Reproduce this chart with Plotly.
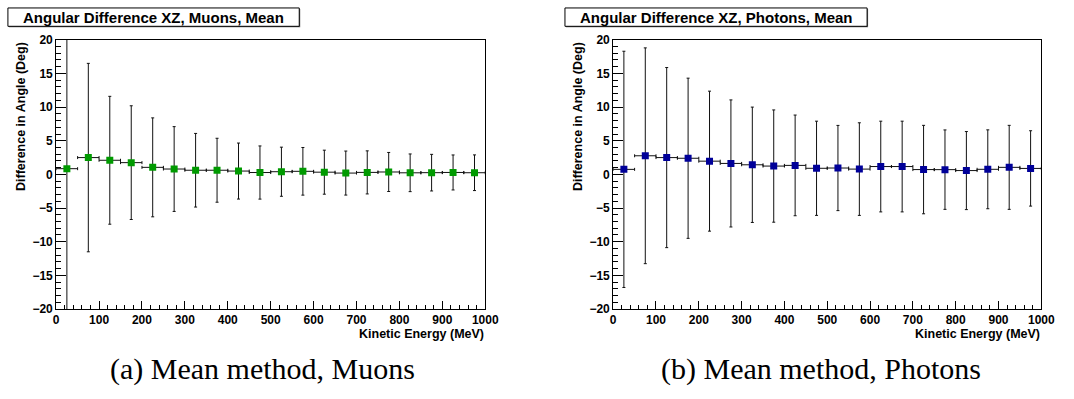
import plotly.graph_objects as go

# Kinetic-energy bins (MeV): centres and half-widths
energy_mev = [25, 75, 125, 175, 225, 275, 325, 375, 425, 475,
              525, 575, 625, 675, 725, 775, 825, 875, 925, 975]
bin_half_width = [25] * 20

# Mean angular difference in XZ (deg) and its spread
muon_mean = [0.85, 2.5, 2.1, 1.75, 1.05, 0.8, 0.62, 0.62, 0.5, 0.28,
             0.4, 0.46, 0.33, 0.2, 0.3, 0.36, 0.24, 0.26, 0.29, 0.25]
muon_err = [24.0, 14.0, 9.5, 8.45, 7.35, 6.3, 5.47, 4.75, 4.16, 3.95,
            3.65, 3.54, 3.27, 3.27, 3.2, 2.9, 2.8, 2.72, 2.6, 2.65]

photon_mean = [0.75, 2.77, 2.5, 2.4, 1.97, 1.63, 1.43, 1.24, 1.34, 0.91,
               0.95, 0.79, 1.17, 1.17, 0.72, 0.71, 0.57, 0.76, 1.05, 0.89]
photon_err = [17.55, 16.03, 13.38, 11.9, 10.4, 9.44, 8.57, 8.34, 7.48, 7.0,
              6.33, 6.88, 6.74, 6.74, 6.57, 5.9, 5.8, 5.86, 6.24, 5.6]

x_ticks = [0, 100, 200, 300, 400, 500, 600, 700, 800, 900, 1000]
y_ticks = [-20, -15, -10, -5, 0, 5, 10, 15, 20]

panel_titles = ["Angular Difference XZ, Muons, Mean",
                "Angular Difference XZ, Photons, Mean"]
captions = ["(a) Mean method, Muons", "(b) Mean method, Photons"]
x_title = "Kinetic Energy (MeV)"
y_title = "Difference in Angle (Deg)"

W, H = 1074, 399


def px(x):
    return x / W


def py(y):
    return 1 - y / H


fig = go.Figure()

series = [
    (muon_mean, muon_err, "#009a00", "x", "y"),
    (photon_mean, photon_err, "#000099", "x2", "y2"),
]
for mean, err, colour, xa, ya in series:
    fig.add_trace(go.Scatter(
        x=energy_mev, y=mean, mode="markers",
        marker=dict(symbol="square", size=7, color=colour, line=dict(width=0)),
        error_y=dict(type="data", array=err, color="#111111", thickness=1, width=1.5),
        error_x=dict(type="data", array=bin_half_width, color="#111111", thickness=1, width=1.5),
        xaxis=xa, yaxis=ya, showlegend=False, cliponaxis=True,
    ))

sans = "Liberation Sans, Arial, sans-serif"
tick_font = dict(family=sans, size=12, color="black", weight="bold")

axis_common = dict(showline=True, mirror=True, linecolor="black", linewidth=1,
                   showgrid=False, zeroline=False, ticks="inside",
                   tickcolor="black", tickwidth=1, tickfont=tick_font)

panels = [(54, 490), (620, 1055)]
y_top, y_bot = 34, 313

layout_axes = {}
for i, (x0, x1) in enumerate(panels):
    sfx = "" if i == 0 else str(i + 1)
    layout_axes["xaxis" + sfx] = dict(
        axis_common, domain=[px(x0), px(x1)], range=[0, 1000],
        tickvals=x_ticks, ticklen=8, anchor="y" + sfx, ticklabelstandoff=0,
        minor=dict(dtick=20, tick0=0, ticklen=4, ticks="inside", tickcolor="black"),
    )
    layout_axes["yaxis" + sfx] = dict(
        axis_common, domain=[py(y_bot), py(y_top)], range=[-20, 20],
        tickvals=y_ticks, ticklen=10, anchor="x" + sfx,
        minor=dict(dtick=1, tick0=0, ticklen=5, ticks="inside", tickcolor="black"),
    )

shapes = []
annotations = []
title_boxes = [(5, 301), (571, 878)]
for (bx0, bx1), title in zip(title_boxes, panel_titles):
    # thin drop shadow, then the framed box
    shapes.append(dict(type="rect", xref="paper", yref="paper",
                       x0=px(bx0 + 1), x1=px(bx1 + 1), y0=py(21), y1=py(2),
                       fillcolor="#666666", line=dict(width=0), layer="above"))
    shapes.append(dict(type="rect", xref="paper", yref="paper",
                       x0=px(bx0), x1=px(bx1), y0=py(20), y1=py(1),
                       fillcolor="white", line=dict(color="black", width=1), layer="above"))
    annotations.append(dict(text=title, xref="paper", yref="paper",
                            x=px((bx0 + bx1) / 2), y=py(10.5), showarrow=False,
                            xanchor="center", yanchor="middle",
                            font=dict(family=sans, size=15, color="black", weight="bold")))

label_font = dict(family=sans, size=12.5, color="black", weight="bold")
for (x0, x1) in panels:
    annotations.append(dict(text=x_title, xref="paper", yref="paper",
                            x=px(x1 + 1), y=py(339), showarrow=False,
                            xanchor="right", yanchor="middle", font=label_font))
    annotations.append(dict(text=y_title, xref="paper", yref="paper",
                            x=px(x0 - 35), y=py(34), showarrow=False, textangle=-90,
                            xanchor="center", yanchor="top", font=label_font))

caption_centres = [264, 831]
for cx, cap in zip(caption_centres, captions):
    annotations.append(dict(text=cap, xref="paper", yref="paper",
                            x=px(cx), y=py(375), showarrow=False,
                            xanchor="center", yanchor="middle",
                            font=dict(family="Liberation Serif, serif", size=30,
                                      color="black")))

fig.update_layout(
    width=W, height=H, margin=dict(l=0, r=0, t=0, b=0),
    paper_bgcolor="white", plot_bgcolor="white",
    shapes=shapes, annotations=annotations, **layout_axes,
)

fig.write_html("out.html")
